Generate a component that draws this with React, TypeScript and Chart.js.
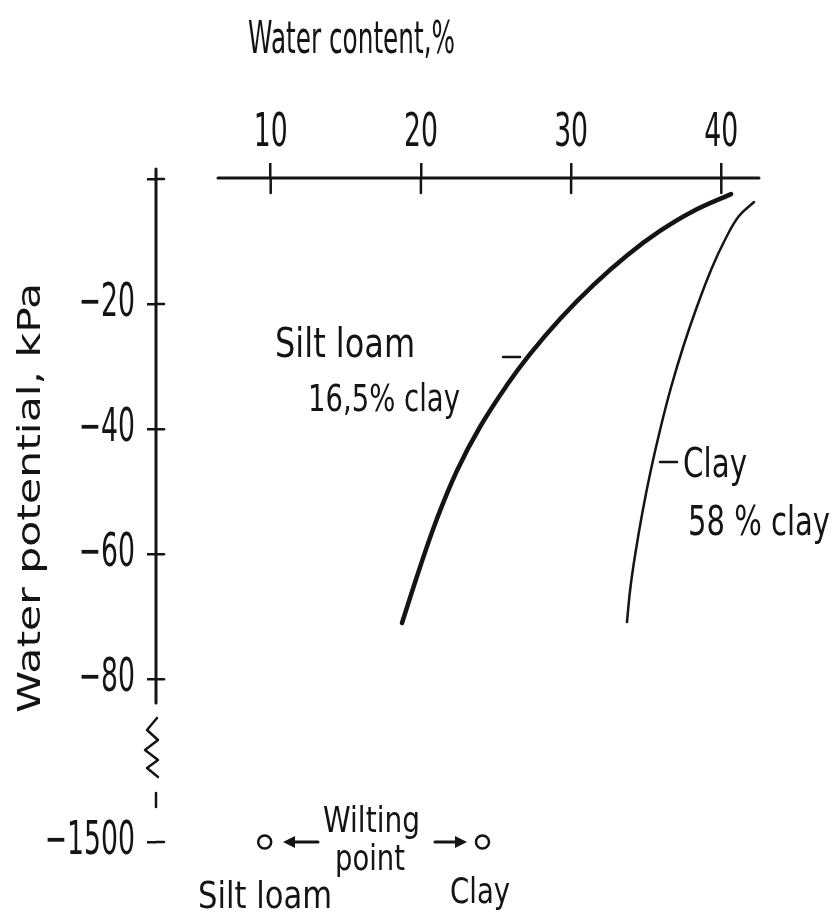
import React, { useEffect, useRef } from 'react';
import { Chart, registerables } from 'chart.js';

Chart.register(...registerables);

// ---------- data ----------
const xTickValues = [10, 20, 30, 40];
const yTickValues = [0, -20, -40, -60, -80, -106];
const yTickLabels = ['', '\u221220', '\u221240', '\u221260', '\u221280', '\u22121500'];

const siltLoamWater = [18.74, 19.94, 21.07, 22.4, 23.93, 25.73, 27.26, 29.26, 31.46, 33.72, 35.92, 38.12, 40.65];
const siltLoamPotential = [-70.99, -62.07, -54.31, -46.64, -39.65, -32.95, -28.0, -22.38, -17.0, -12.22, -8.31, -5.15, -2.41];

const clayWater = [33.72, 33.93, 34.24, 34.74, 35.31, 35.97, 36.66, 37.46, 38.3, 39.37, 40.34, 41.18, 42.18];
const clayPotential = [-70.83, -65.71, -60.44, -53.4, -46.53, -39.65, -33.26, -26.86, -20.94, -14.23, -9.27, -5.92, -3.68];

// wilting points (-1500 kPa, drawn at the broken-axis position of the -1500 tick)
const wiltingWater = [9.6, 24.1];
const wiltingAxisPosition = [-106, -106];

// ---------- styling / layout ----------
const INK = '#141414';
const FONT = '"DejaVu Sans", "Liberation Sans", sans-serif';
const TICK_SX = 0.58;

type Label = { text: string; x: number; y: number; size: number; width: number };
const annotationLabels: Label[] = [
  { text: 'Silt loam', x: 10.29, y: -28.46, size: 40, width: 140 },
  { text: '16,5% clay', x: 12.48, y: -37.09, size: 37, width: 152 },
  { text: 'Clay', x: 37.45, y: -47.65, size: 40, width: 64 },
  { text: '58 % clay', x: 37.78, y: -56.92, size: 40, width: 142 },
  { text: 'Wilting', x: 13.48, y: -104.4, size: 35, width: 97 },
  { text: 'point', x: 14.28, y: -110.48, size: 35, width: 70 },
  { text: 'Silt loam', x: 5.16, y: -116.56, size: 38, width: 134 },
  { text: 'Clay', x: 21.94, y: -115.76, size: 36, width: 60 },
];
const leaderDashes = [
  { x1: 25.47, x2: 26.6, y: -28.46 },
  { x1: 35.92, x2: 37.05, y: -45.25 },
];
const arrows = [
  { from: 13.15, to: 10.82, y: -106 },
  { from: 20.94, to: 23.07, y: -106 },
];
const AXIS = { xStart: 6.49, yTop: 1.6, yBottom: -83.78 };
const BREAK_ZIGZAG: [number, number][] = [
  [1, -86.18], [-9, -88.09], [2, -89.69], [-11, -91.29], [2, -92.89], [-9, -94.17], [2, -95.6],
];
const BREAK_DASH = [-98.17, -100.41];

function patchFillText(ctx: any) {
  if (ctx.__rawFillText) return;
  const raw = ctx.fillText.bind(ctx);
  ctx.__rawFillText = raw;
  ctx.fillText = (text: string, x: number, y: number, maxWidth?: number) => {
    ctx.save();
    ctx.translate(x, y);
    ctx.scale(TICK_SX, 1);
    if (maxWidth === undefined) raw(text, 0, 0);
    else raw(text, 0, 0, maxWidth / TICK_SX);
    ctx.restore();
  };
}

function drawText(ctx: any, text: string, x: number, y: number, size: number, width: number, rotate = 0, align: CanvasTextAlign = 'left') {
  ctx.save();
  ctx.font = `${size}px ${FONT}`;
  const natural = ctx.measureText(text).width;
  const sx = width / natural;
  ctx.translate(x, y);
  if (rotate) ctx.rotate(rotate);
  ctx.scale(sx, 1);
  ctx.textAlign = align;
  ctx.textBaseline = 'alphabetic';
  ctx.fillStyle = INK;
  (ctx.__rawFillText || ctx.fillText).call(ctx, text, 0, 0);
  ctx.restore();
}

const decorPlugin = {
  id: 'decor',
  afterDraw(chart: any) {
    const { ctx, chartArea: ca } = chart;
    const xs = chart.scales.x;
    const ys = chart.scales.y;
    const line = (x1: number, y1: number, x2: number, y2: number) => {
      ctx.beginPath();
      ctx.moveTo(x1, y1);
      ctx.lineTo(x2, y2);
      ctx.stroke();
    };
    ctx.save();
    ctx.strokeStyle = INK;
    ctx.fillStyle = INK;
    ctx.lineCap = 'round';

    // axis lines
    ctx.lineWidth = 3;
    line(xs.getPixelForValue(AXIS.xStart), ca.top, ca.right, ca.top);
    line(ca.left, ys.getPixelForValue(AXIS.yTop), ca.left, ys.getPixelForValue(AXIS.yBottom));

    // inward halves of the cross ticks
    ctx.lineWidth = 2.5;
    xs.ticks.forEach((_t: any, i: number) => {
      const px = xs.getPixelForTick(i);
      line(px, ca.top, px, ca.top + 15);
    });
    ys.ticks.forEach((_t: any, i: number) => {
      const py = ys.getPixelForTick(i);
      line(ca.left, py, ca.left + 8, py);
    });

    // axis break
    ctx.lineWidth = 2.5;
    ctx.lineJoin = 'round';
    ctx.beginPath();
    BREAK_ZIGZAG.forEach(([dx, v], i) => {
      const px = ca.left + dx;
      const py = ys.getPixelForValue(v);
      if (i === 0) ctx.moveTo(px, py);
      else ctx.lineTo(px, py);
    });
    ctx.stroke();
    line(ca.left, ys.getPixelForValue(BREAK_DASH[0]), ca.left, ys.getPixelForValue(BREAK_DASH[1]));

    // leader dashes
    ctx.lineWidth = 2.5;
    leaderDashes.forEach((d) => {
      const py = ys.getPixelForValue(d.y);
      line(xs.getPixelForValue(d.x1), py, xs.getPixelForValue(d.x2), py);
    });

    // arrows
    arrows.forEach((a) => {
      const x1 = xs.getPixelForValue(a.from);
      const x2 = xs.getPixelForValue(a.to);
      const py = ys.getPixelForValue(a.y);
      const dir = Math.sign(x2 - x1);
      ctx.lineWidth = 3;
      line(x1, py, x2 - dir * 8, py);
      ctx.beginPath();
      ctx.moveTo(x2, py);
      ctx.lineTo(x2 - dir * 12, py - 6);
      ctx.lineTo(x2 - dir * 12, py + 6);
      ctx.closePath();
      ctx.fill();
    });

    // labels
    annotationLabels.forEach((l) => {
      drawText(ctx, l.text, xs.getPixelForValue(l.x), ys.getPixelForValue(l.y), l.size, l.width);
    });

    // axis titles
    drawText(ctx, 'Water content,%', xs.getPixelForValue(8.49), ca.top - 125, 45, 207);
    drawText(ctx, 'Water potential, kPa', ca.left - 116, ys.getPixelForValue(-51.0), 32, 430, -Math.PI / 2, 'center');

    ctx.restore();
  },
};

export default function App() {
  const ref = useRef<HTMLCanvasElement>(null);
  useEffect(() => {
    const canvas = ref.current;
    if (!canvas) return;
    const ctx = canvas.getContext('2d') as any;
    patchFillText(ctx);
    const tickFont = { family: FONT, size: 46, lineHeight: 1 };
    const chart = new Chart(ctx, {
      type: 'scatter',
      data: {
        datasets: [
          {
            label: 'Silt loam, 16,5% clay',
            data: siltLoamWater.map((w, i) => ({ x: w, y: siltLoamPotential[i] })),
            showLine: true,
            borderColor: INK,
            borderWidth: 4.5,
            pointRadius: 0,
            tension: 0.4,
            borderCapStyle: 'round',
          } as any,
          {
            label: 'Clay, 58% clay',
            data: clayWater.map((w, i) => ({ x: w, y: clayPotential[i] })),
            showLine: true,
            borderColor: INK,
            borderWidth: 2.5,
            pointRadius: 0,
            tension: 0.4,
            borderCapStyle: 'round',
          } as any,
          {
            label: 'Wilting point',
            data: wiltingWater.map((w, i) => ({ x: w, y: wiltingAxisPosition[i] })),
            showLine: false,
            pointRadius: 6.5,
            pointBorderWidth: 2.5,
            pointBackgroundColor: '#fff',
            pointBorderColor: INK,
            clip: false,
          } as any,
        ],
      },
      options: {
        responsive: false,
        animation: false,
        events: [],
        layout: { padding: { left: 0, top: 0, right: 79, bottom: 46 } },
        plugins: { legend: { display: false }, tooltip: { enabled: false } },
        scales: {
          x: {
            type: 'linear',
            position: 'top',
            min: 2.363,
            max: 42.51,
            afterBuildTicks: (s: any) => {
              s.ticks = xTickValues.map((v) => ({ value: v }));
            },
            afterFit: (s: any) => {
              s.height = 178;
            },
            grid: { display: true, drawOnChartArea: false, drawTicks: true, tickLength: 15, color: INK, lineWidth: 2.5 },
            border: { display: false },
            ticks: {
              font: tickFont,
              color: INK,
              padding: 6,
              autoSkip: false,
              maxRotation: 0,
              callback: (v: any) => String(v),
            },
          },
          y: {
            type: 'linear',
            position: 'left',
            min: -110,
            max: 0.16,
            afterBuildTicks: (s: any) => {
              s.ticks = yTickValues.map((v) => ({ value: v }));
            },
            afterFit: (s: any) => {
              s.width = 156;
            },
            grid: { display: true, drawOnChartArea: false, drawTicks: true, tickLength: 9, color: INK, lineWidth: 2.5 },
            border: { display: false },
            ticks: {
              font: tickFont,
              color: INK,
              padding: 12,
              autoSkip: false,
              callback: (v: any) => {
                const i = yTickValues.indexOf(Number(v));
                return i >= 0 ? yTickLabels[i] : '';
              },
            },
          },
        },
      } as any,
      plugins: [decorPlugin],
    });
    return () => chart.destroy();
  }, []);

  return (
    <div style={{ position: 'absolute', left: 0, top: 0, width: 838, height: 913, background: '#fff' }}>
      <canvas ref={ref} width={838} height={913} style={{ display: 'block', width: 838, height: 913 }} />
    </div>
  );
}
